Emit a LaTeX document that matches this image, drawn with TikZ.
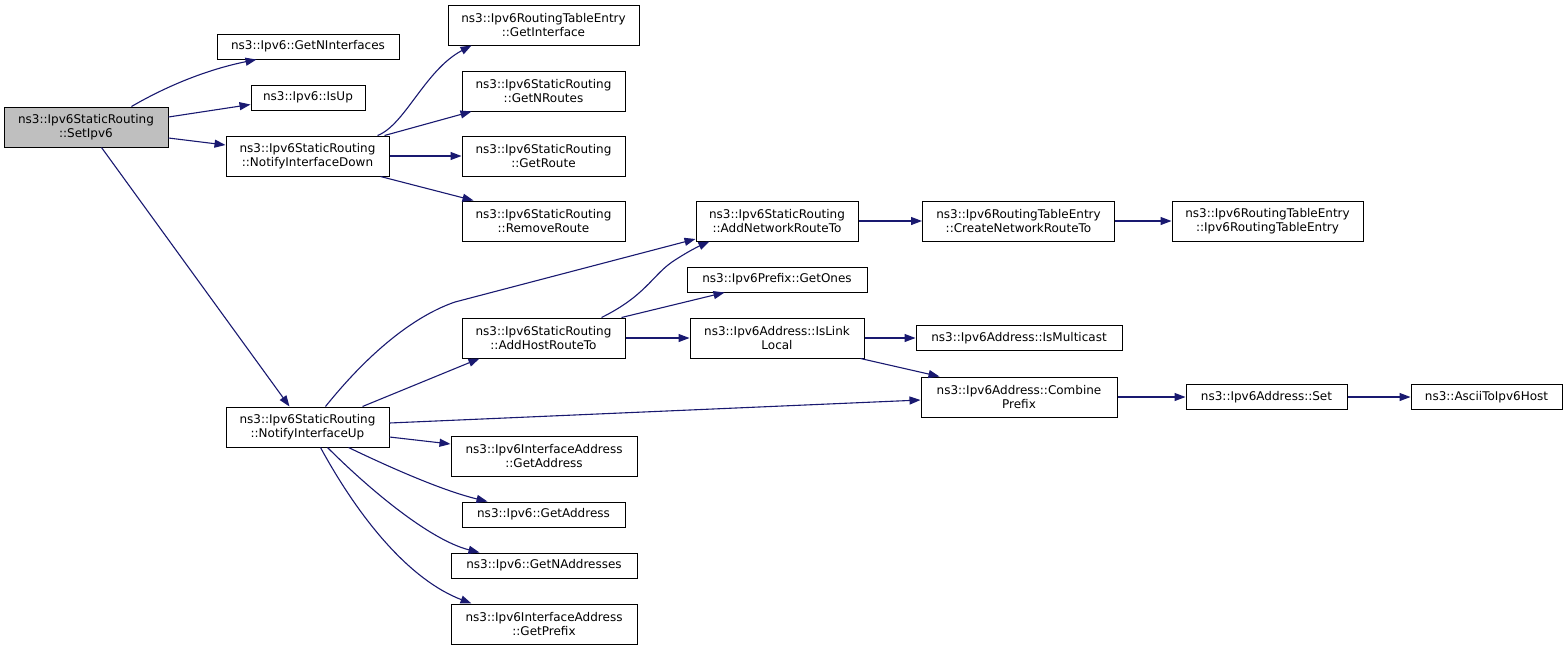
\documentclass[tikz,border=0pt]{standalone}
\usepackage{fontspec}
\setmainfont{DejaVu Sans}
\usetikzlibrary{arrows.meta,calc}
\definecolor{edgec}{HTML}{191970}
\definecolor{setfill}{HTML}{BFBFBF}
\begin{document}
\begin{tikzpicture}[x=1pt,y=-1pt,
  fn/.style={draw=black,line width=1pt,rectangle,inner sep=0pt,align=center,
    font=\fontsize{12}{14}\selectfont,text=black,minimum height=40pt},
  fnone/.style={fn,minimum height=25pt},
  edge/.style={draw=edgec,line width=1.1pt,-{Triangle[length=11pt,width=8pt]}}]
\useasboundingbox (0,0) rectangle (1568,649);
% nodes
\node[fn,minimum width=164pt,fill=setfill] (set) at (86,127) {ns3::Ipv6StaticRouting\\::SetIpv6};
\node[fnone,minimum width=182pt] (gni) at (308,46.5) {ns3::Ipv6::GetNInterfaces};
\node[fnone,minimum width=114pt] (isup) at (308,97.5) {ns3::Ipv6::IsUp};
\node[fn,minimum width=163pt] (nid) at (307.5,156) {ns3::Ipv6StaticRouting\\::NotifyInterfaceDown};
\node[fn,minimum width=191pt] (gif) at (543.5,25) {ns3::Ipv6RoutingTableEntry\\::GetInterface};
\node[fn,minimum width=163pt] (gnr) at (543.5,91) {ns3::Ipv6StaticRouting\\::GetNRoutes};
\node[fn,minimum width=163pt] (gr) at (543.5,156) {ns3::Ipv6StaticRouting\\::GetRoute};
\node[fn,minimum width=163pt] (rr) at (543.5,221) {ns3::Ipv6StaticRouting\\::RemoveRoute};
\node[fn,minimum width=162pt] (anrt) at (777,221) {ns3::Ipv6StaticRouting\\::AddNetworkRouteTo};
\node[fn,minimum width=192pt] (cnrt) at (1018.5,221) {ns3::Ipv6RoutingTableEntry\\::CreateNetworkRouteTo};
\node[fn,minimum width=191pt] (rte) at (1267.5,221) {ns3::Ipv6RoutingTableEntry\\::Ipv6RoutingTableEntry};
\node[fnone,minimum width=180pt] (gones) at (777,279.5) {ns3::Ipv6Prefix::GetOnes};
\node[fn,minimum width=163pt] (ahrt) at (543.5,338) {ns3::Ipv6StaticRouting\\::AddHostRouteTo};
\node[fn,minimum width=174pt] (ill) at (777,338) {ns3::Ipv6Address::IsLink\\Local};
\node[fnone,minimum width=206pt] (ismc) at (1019,338) {ns3::Ipv6Address::IsMulticast};
\node[fn,minimum width=196pt] (comb) at (1019,397) {ns3::Ipv6Address::Combine\\Prefix};
\node[fnone,minimum width=161pt] (set6) at (1266.5,397) {ns3::Ipv6Address::Set};
\node[fnone,minimum width=151pt] (ascii) at (1486.5,397) {ns3::AsciiToIpv6Host};
\node[fn,minimum width=163pt] (niu) at (307.5,427) {ns3::Ipv6StaticRouting\\::NotifyInterfaceUp};
\node[fn,minimum width=186pt] (iaga) at (544,456) {ns3::Ipv6InterfaceAddress\\::GetAddress};
\node[fnone,minimum width=163pt] (iga) at (543.5,514.5) {ns3::Ipv6::GetAddress};
\node[fnone,minimum width=186pt] (gna) at (544,565.5) {ns3::Ipv6::GetNAddresses};
\node[fn,minimum width=186pt] (iagp) at (544,624) {ns3::Ipv6InterfaceAddress\\::GetPrefix};
% edges from SetIpv6
\draw[edge] ($(set.north west)+(128,0)$) .. controls (165,87) and (205,70) .. ($(gni.south west)+(40,0)$);
\draw[edge] ($(set.east)+(0,-10)$) -- ($(isup.west)+(0,7)$);
\draw[edge] ($(set.east)+(0,11)$) -- ($(nid.west)+(0,-11)$);
\draw[edge] ($(set.south west)+(98,0)$) -- ($(niu.north west)+(64,0)$);
% edges from NotifyInterfaceDown
\draw[edge] ($(nid.north west)+(152,0)$) .. controls (405,125) and (425,70) .. ($(gif.south west)+(24,0)$);
\draw[edge] ($(nid.north west)+(159,0)$) -- ($(gnr.south west)+(10,0)$);
\draw[edge] (nid.east) -- (gr.west);
\draw[edge] ($(nid.south west)+(155,0)$) -- ($(rr.north west)+(12,0)$);
% edges from NotifyInterfaceUp
\draw[edge] ($(niu.north west)+(100,0)$) .. controls (375,345) and (420,314) .. (455,302) -- ($(anrt.west)+(0,18)$);
\draw[edge] ($(niu.north west)+(137,0)$) -- ($(ahrt.south west)+(18,0)$);
\draw[edge] ($(niu.east)+(0,-4)$) -- ($(comb.west)+(0,3)$);
\draw[edge] ($(niu.east)+(0,10)$) -- ($(iaga.west)+(0,-12)$);
\draw[edge] ($(niu.south west)+(123,0)$) .. controls (385,465) and (440,490) .. ($(iga.north west)+(26,0)$);
\draw[edge] ($(niu.south west)+(102,0)$) .. controls (370,490) and (430,540) .. ($(gna.north west)+(29,0)$);
\draw[edge] ($(niu.south west)+(95,0)$) .. controls (360,520) and (410,580) .. ($(iagp.north west)+(21,0)$);
% edges from AddHostRouteTo
\draw[edge] ($(ahrt.north west)+(140,0)$) .. controls (645,296) and (652,276) .. (672,262) .. controls (684,254) and (695,248) .. ($(anrt.south west)+(14,0)$);
\draw[edge] ($(ahrt.north west)+(160,0)$) -- ($(gones.south west)+(38,0)$);
\draw[edge] (ahrt.east) -- (ill.west);
% remaining
\draw[edge] (anrt.east) -- (cnrt.west);
\draw[edge] (cnrt.east) -- (rte.west);
\draw[edge] (ill.east) -- (ismc.west);
\draw[edge] ($(ill.south east)+(-4,0)$) -- ($(comb.north west)+(19,0)$);
\draw[edge] (comb.east) -- (set6.west);
\draw[edge] (set6.east) -- (ascii.west);
\end{tikzpicture}
\end{document}
